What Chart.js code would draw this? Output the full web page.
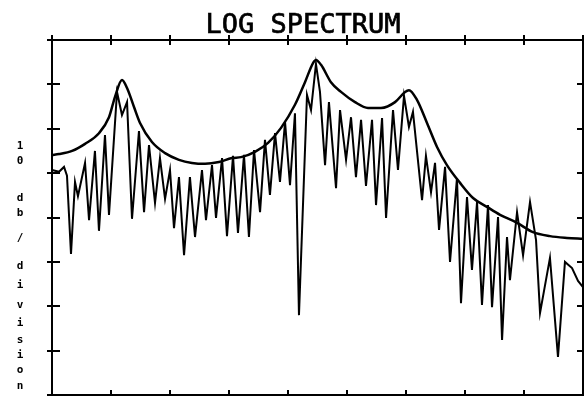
<!DOCTYPE html>
<html>
<head>
<meta charset="utf-8">
<script src="https://cdn.jsdelivr.net/npm/chart.js@4"></script>
<style>
  html, body { margin: 0; padding: 0; background: #fff; }
  #wrap { width: 585px; height: 399px; }
</style>
</head>
<body>
<div id="wrap"><canvas id="spec" width="585" height="399"></canvas></div>
<script>
// frequency (Hz) / level (dB)
const envFreq = [0, 59, 170, 280, 398, 483, 534, 593, 636, 695, 746, 847, 958, 1076, 1186, 1297, 1415, 1525,
  1602, 1720, 1831, 1941, 2059, 2144, 2212, 2237, 2280, 2364, 2449, 2568, 2678, 2788, 2907, 2992, 3025,
  3093, 3178, 3263, 3347, 3458, 3568, 3686, 3797, 3941, 4076, 4220, 4364, 4500];
const envDb = [54.1, 54.3, 55.0, 56.6, 59.0, 62.6, 67.2, 71.0, 69.2, 64.9, 61.3, 57.0, 54.5, 53.0, 52.3, 52.1, 52.5, 53.4,
  53.6, 54.8, 56.8, 60.2, 65.4, 70.5, 74.8, 75.5, 74.4, 70.5, 68.3, 66.0, 64.7, 64.7, 66.0, 68.3, 68.7,
  66.5, 61.3, 55.9, 51.8, 47.8, 44.4, 42.4, 40.6, 38.8, 36.7, 35.8, 35.4, 35.2];

const specFreq = [0, 59, 102, 127, 161, 195, 220, 280, 314, 364, 398, 449, 483, 551, 593, 636, 678, 737, 780, 822,
  873, 915, 958, 1000, 1034, 1076, 1119, 1169, 1212, 1271, 1305, 1356, 1390, 1441, 1483, 1534, 1576, 1627, 1669,
  1712, 1763, 1805, 1847, 1890, 1932, 1975, 2017, 2059, 2093, 2161, 2195, 2237, 2271, 2314, 2347, 2407, 2441,
  2492, 2534, 2576, 2619, 2661, 2712, 2746, 2797, 2831, 2890, 2932, 2983, 3025, 3059, 3136, 3169, 3212, 3246,
  3280, 3331, 3373, 3432, 3466, 3517, 3559, 3602, 3644, 3695, 3729, 3780, 3814, 3856, 3881, 3941, 3992, 4051,
  4102, 4136, 4220, 4288, 4347, 4407, 4458, 4500];
const specDb = [50.7, 50.3, 51.4, 49.4, 31.8, 48.0, 44.8, 52.3, 39.4, 55.0, 37.0, 58.6, 40.6, 68.3, 63.1, 66.0, 39.7, 59.5, 41.2, 56.3,
  43.3, 53.4, 44.2, 50.7, 37.6, 49.1, 31.5, 49.1, 35.6, 50.7, 39.4, 51.8, 39.9, 53.4, 35.8, 53.9, 36.5, 54.1, 35.6,
  55.2, 41.2, 57.5, 45.1, 59.0, 48.0, 61.5, 47.3, 63.5, 18.0, 67.6, 64.2, 74.6, 68.3, 51.8, 66.0, 46.6, 64.2,
  53.0, 62.6, 49.1, 62.0, 47.1, 62.0, 42.8, 62.4, 39.9, 64.2, 50.7, 67.4, 60.4, 63.8, 43.9, 53.9, 45.7, 52.3,
  37.2, 51.4, 30.0, 48.9, 20.7, 44.6, 28.2, 43.5, 20.3, 42.8, 19.8, 40.1, 12.4, 35.6, 25.9, 41.2, 31.5, 43.5,
  34.9, 18.5, 30.9, 8.6, 30.0, 28.6, 25.7, 24.3];

const xTicks = [0, 500, 1000, 1500, 2000, 2500, 3000, 3500, 4000, 4500];
const yTicks = [0, 10, 20, 30, 40, 50, 60, 70, 80];
const titleText = 'LOG SPECTRUM';
const yLabel = ['1', '0', 'd', 'b', '/', 'd', 'i', 'v', 'i', 's', 'i', 'o', 'n'];

const frame = {
  id: 'frame',
  afterDraw(chart) {
    const { ctx, chartArea: a, scales } = chart;
    ctx.save();
    ctx.strokeStyle = '#000';
    ctx.lineWidth = 2;
    ctx.strokeRect(a.left, a.top, a.right - a.left, a.bottom - a.top);
    ctx.beginPath();
    xTicks.forEach((v) => {
      const x = Math.round(scales.x.getPixelForValue(v));
      ctx.moveTo(x, a.top - 5); ctx.lineTo(x, a.top + 5);
      ctx.moveTo(x, a.bottom - 5); ctx.lineTo(x, a.bottom);
    });
    yTicks.forEach((v) => {
      const y = Math.round(scales.y.getPixelForValue(v));
      ctx.moveTo(a.left - 5, y); ctx.lineTo(a.left + 8, y);
      ctx.moveTo(a.right - 6, y); ctx.lineTo(a.right, y);
    });
    ctx.stroke();

    // plotter-style title: regular weight with a light outline
    ctx.fillStyle = '#000';
    ctx.font = '27px "DejaVu Sans Mono"';
    ctx.textAlign = 'center';
    ctx.textBaseline = 'alphabetic';
    ctx.fillText(titleText, 303, 33);
    ctx.lineWidth = 0.7;
    ctx.strokeText(titleText, 303, 33);

    ctx.font = 'bold 11px "DejaVu Sans Mono"';
    ctx.textBaseline = 'middle';
    const ys = [146, 161, 198, 213, 238, 266, 285, 305, 323, 340, 355, 370, 386];
    yLabel.forEach((c, i) => ctx.fillText(c, 20, ys[i]));
    ctx.restore();
  }
};

new Chart(document.getElementById('spec'), {
  type: 'line',
  data: {
    datasets: [
      {
        label: 'envelope',
        data: envFreq.map((f, i) => ({ x: f, y: envDb[i] })),
        borderColor: '#000',
        borderWidth: 2.5,
        pointRadius: 0,
        cubicInterpolationMode: 'monotone',
        fill: false,
      },
      {
        label: 'spectrum',
        data: specFreq.map((f, i) => ({ x: f, y: specDb[i] })),
        borderColor: '#000',
        borderWidth: 2,
        pointRadius: 0,
        tension: 0,
        fill: false,
      },
    ],
  },
  options: {
    responsive: false,
    animation: false,
    devicePixelRatio: 1,
    layout: { padding: { left: 52, top: 40, right: 2, bottom: 4 } },
    plugins: { legend: { display: false }, tooltip: { enabled: false }, title: { display: false } },
    scales: {
      x: { type: 'linear', min: 0, max: 4500, display: false },
      y: { type: 'linear', min: 0, max: 80, display: false },
    },
  },
  plugins: [frame],
});
</script>
</body>
</html>
